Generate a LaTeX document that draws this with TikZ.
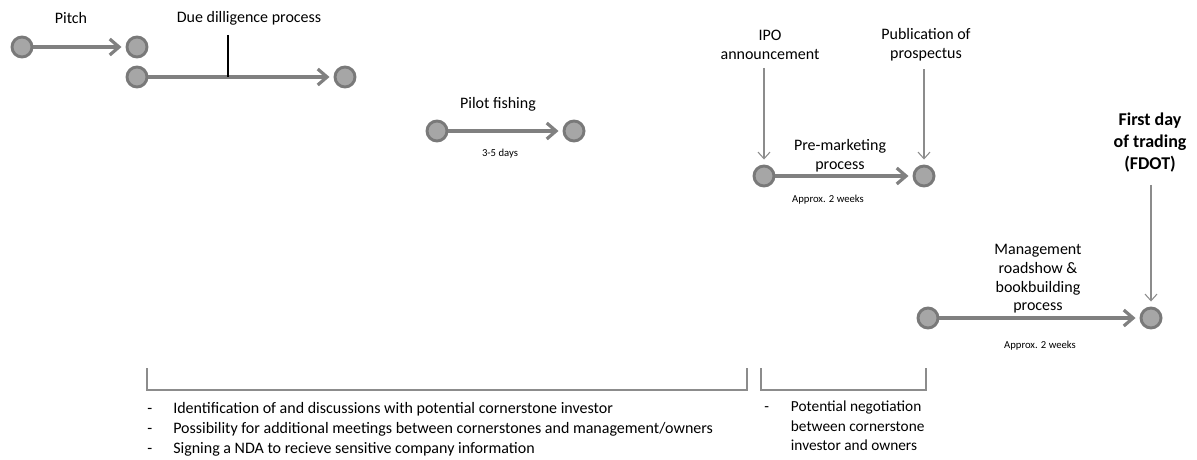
\documentclass[tikz,border=0pt]{standalone}
\usepackage{fontspec}
\setmainfont{Carlito}
\usetikzlibrary{arrows.meta,positioning,calc}

\begin{document}
\begin{tikzpicture}[
  x=0.75pt,y=-0.75pt,
  dot/.style={circle,draw=gray!95!black,line width=2.2pt,fill=black!35,minimum size=15pt,inner sep=0pt},
  flow/.style={-{Straight Barb[length=7pt,width=12pt,line width=2.4pt]},line width=3pt,draw=black!50,shorten >=3pt},
  pointer/.style={-{Straight Barb[length=5pt,width=9pt]},line width=0.8pt,draw=black!45},
  lbl/.style={font=\fontsize{12}{14}\selectfont,align=center,inner sep=0pt},
  small/.style={font=\fontsize{8}{9}\selectfont,inner sep=0pt},
  brace/.style={draw=black!45,line width=0.8pt}
]
\useasboundingbox (0,0) rectangle (1197,460);

% Pitch
\node[dot] (p1) at (22,47) {};
\node[dot] (p2) at (137,47) {};
\draw[flow] (p1) -- (p2);
\node[lbl] (pitch) at (71,18) {Pitch};

% Due diligence
\node[dot] (d1) at (137,77) {};
\node[dot] (d2) at (345,77) {};
\draw[flow] (d1) -- (d2);
\node[lbl] (dd) at (249,18) {Due dilligence process};
\coordinate (ddtop) at (228,35);
\draw[line width=0.8pt] (ddtop) -- (ddtop |- d1);

% Pilot fishing
\node[dot] (f1) at (437,131) {};
\node[dot] (f2) at (574,131) {};
\draw[flow] (f1) -- (f2);
\node[lbl] (fish) at (498,104) {Pilot fishing};
\node[small] (fishd) at (500,154) {3-5 days};

% Pre-marketing
\node[dot] (m1) at (764,176) {};
\node[dot] (m2) at (924,176) {};
\draw[flow] (m1) -- (m2);
\node[lbl] (pre) at (840,156) {Pre-marketing\\process};
\node[small] (pred) at (828,200) {Approx. 2 weeks};

% IPO announcement and prospectus
\node[lbl] (ipo) at (770,45) {IPO\\announcement};
\node[lbl] (pub) at (926,45) {Publication of\\prospectus};
\draw[pointer] ($(ipo.south -| m1)+(0,8)$) -- ($(m1.north)+(0,-5)$);
\draw[pointer] ($(pub.south -| m2)+(0,8)$) -- ($(m2.north)+(0,-5)$);

% Roadshow and bookbuilding
\node[dot] (r1) at (928,318) {};
\node[dot] (r2) at (1151,318) {};
\draw[flow] (r1) -- (r2);
\node[lbl] (road) at (1038,279) {Management\\roadshow \&\\bookbuilding\\process};
\node[small] (roadd) at (1040,346) {Approx. 2 weeks};

% First day of trading
\node[lbl,font=\fontsize{13.5}{16.5}\selectfont\bfseries] (fdot) at (1150,143) {First day\\of trading\\(FDOT)};
\draw[pointer] ($(fdot.south -| r2)+(0,12)$) -- ($(r2.north)+(0,-5)$);

% Brackets
\draw[brace] (147,368) |- (747,390) -- (747,368);
\draw[brace] (761,368) |- (926,390) -- (926,368);

% Cornerstone activities
\node[lbl,align=left,anchor=north west,font=\fontsize{12}{15}\selectfont] (left) at (147,402)
  {\makebox[19.5pt][l]{-}Identification of and discussions with potential cornerstone investor\\
   \makebox[19.5pt][l]{-}Possibility for additional meetings between cornerstones and management/owners\\
   \makebox[19.5pt][l]{-}Signing a NDA to recieve sensitive company information};
\node[lbl,align=left,anchor=north west,font=\fontsize{11.5}{14.5}\selectfont] (right) at (764,401)
  {\makebox[20pt][l]{-}Potential negotiation\\
   \hspace*{20pt}between cornerstone\\
   \hspace*{20pt}investor and owners};
\end{tikzpicture}
\end{document}
